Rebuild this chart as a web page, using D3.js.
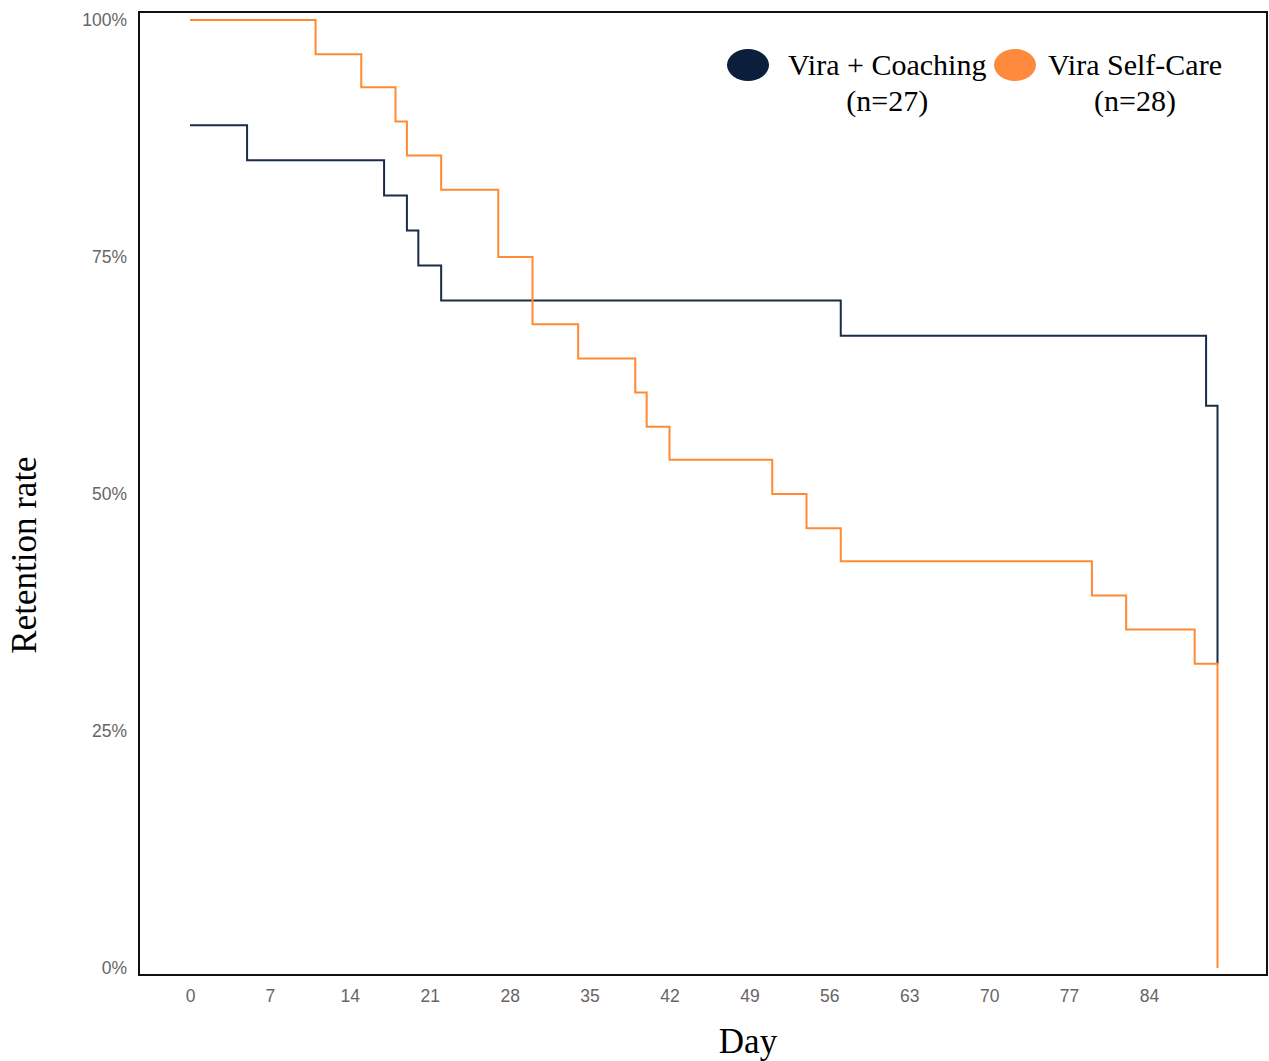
<!DOCTYPE html>
<html><head><meta charset="utf-8">
<script src="https://cdn.jsdelivr.net/npm/d3@7"></script>
<style>body{margin:0;background:#fff}</style>
</head><body>
<svg id="c" width="1269" height="1061"></svg>
<script>
// Kaplan-Meier style step data (day, retention after that day)
const coachingDays   = [0, 5, 17, 19, 20, 22, 57, 89, 90];
const coachingValues = [0.889, 0.852, 0.815, 0.778, 0.741, 0.704, 0.667, 0.593, 0.321];
const selfCareDays   = [0, 11, 15, 18, 19, 22, 27, 30, 34, 39, 40, 42, 51, 54, 57, 79, 82, 88, 90];
const selfCareValues = [1.0, 0.964, 0.929, 0.893, 0.857, 0.821, 0.75, 0.679, 0.643, 0.607, 0.571, 0.536, 0.5, 0.464, 0.429, 0.393, 0.357, 0.321, 0.0];
const xTicks = [0, 7, 14, 21, 28, 35, 42, 49, 56, 63, 70, 77, 84];
const yTicks = [0, 0.25, 0.5, 0.75, 1.0];
const seriesNames = ["Vira + Coaching", "Vira Self-Care"];
const seriesN = ["(n=27)", "(n=28)"];
const lineColors = ["#1b2a47", "#ff8a33"];
const legendColors = ["#0b1e3b", "#ff8a3d"];

const svg = d3.select("#c");
const panel = {l:139, t:12, r:1267, b:975};
const x = d3.scaleLinear().domain([0, 84]).range([190, 1149]);
const y = d3.scaleLinear().domain([0, 1]).range([968, 20]);

// panel border
svg.append("rect").attr("x", panel.l).attr("y", panel.t)
  .attr("width", panel.r - panel.l).attr("height", panel.b - panel.t)
  .attr("fill", "none").attr("stroke", "#111").attr("stroke-width", 2);

// tick labels
const xAxis = svg.append("g").attr("transform", `translate(0,${panel.b})`)
  .call(d3.axisBottom(x).tickValues(xTicks).tickSize(0).tickPadding(15));
xAxis.select(".domain").remove();
xAxis.selectAll("text").attr("font-family", "Liberation Sans, Arial, sans-serif")
  .attr("font-size", 17.5).attr("fill", "#666");

const yAxis = svg.append("g").attr("transform", `translate(${panel.l},0)`)
  .call(d3.axisLeft(y).tickValues(yTicks).tickSize(0).tickPadding(12).tickFormat(d3.format(".0%")));
yAxis.select(".domain").remove();
yAxis.selectAll("text").attr("font-family", "Liberation Sans, Arial, sans-serif")
  .attr("font-size", 17.5).attr("fill", "#666");

// step lines
function stepPath(days, vals) {
  const pts = days.map((d, i) => [d, vals[i]]);
  return d3.line().x(d => x(d[0])).y(d => y(d[1])).curve(d3.curveStepAfter)(pts);
}
svg.append("path").attr("d", stepPath(coachingDays, coachingValues))
  .attr("fill", "none").attr("stroke", lineColors[0]).attr("stroke-width", 2);
svg.append("path").attr("d", stepPath(selfCareDays, selfCareValues))
  .attr("fill", "none").attr("stroke", lineColors[1]).attr("stroke-width", 2);

// axis titles
svg.append("text").attr("x", 748).attr("y", 1053).attr("text-anchor", "middle")
  .attr("font-family", "Liberation Serif, Times New Roman, serif").attr("font-size", 35)
  .attr("fill", "#000").text("Day");
svg.append("text").attr("transform", "translate(36,555) rotate(-90)").attr("text-anchor", "middle")
  .attr("font-family", "Liberation Serif, Times New Roman, serif").attr("font-size", 35)
  .attr("fill", "#000").text("Retention rate");

// legend
const legendX = [748, 1015];
const textX = [788, 1048];
seriesNames.forEach((name, i) => {
  svg.append("ellipse").attr("cx", legendX[i]).attr("cy", 65).attr("rx", 21).attr("ry", 16)
    .attr("fill", legendColors[i]);
  const t = svg.append("text").attr("x", textX[i]).attr("y", 75)
    .attr("font-family", "Liberation Serif, Times New Roman, serif").attr("font-size", 30)
    .attr("fill", "#000").text(name);
  const w = t.node().getComputedTextLength();
  svg.append("text").attr("x", textX[i] + w / 2).attr("y", 111).attr("text-anchor", "middle")
    .attr("font-family", "Liberation Serif, Times New Roman, serif").attr("font-size", 30)
    .attr("fill", "#000").text(seriesN[i]);
});
</script>
</body></html>
